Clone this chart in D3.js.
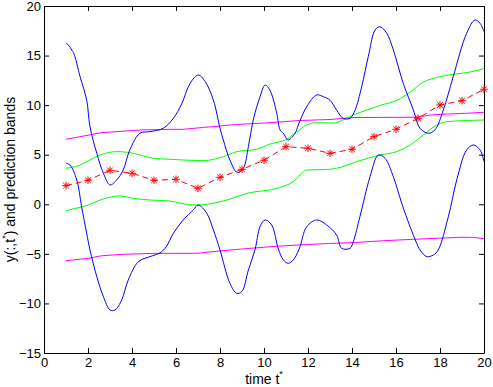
<!DOCTYPE html>
<html>
<head>
<meta charset="utf-8">
<script src="https://cdn.jsdelivr.net/npm/d3@7"></script>
<style>
  body { margin: 0; background: #fff; }
  svg { display: block; font-family: 'Liberation Sans', Arial, Helvetica, sans-serif; }
</style>
</head>
<body>
<div id="chart"></div>
<script>
// 予測値 (red stars)
const meanT = [1, 2, 3, 4, 5, 6, 7, 8, 9, 10, 11, 12, 13, 14, 15, 16, 17, 18, 19, 20];
const meanY = [1.88, 2.42, 3.43, 3.13, 2.42, 2.52, 1.61, 2.72, 3.53, 4.44,
  5.81, 5.65, 5.14, 5.55, 6.82, 7.56, 8.67, 10.02, 10.45, 11.6];

// blue curves [t, y]
const blueUpper = [[1.0, 16.24], [1.14, 16.0], [1.26, 15.56], [1.36, 15.2], [1.64, 12.87], [1.94, 10.5],
  [2.09, 7.83], [2.4, 5.14], [2.7, 3.13], [3.0, 1.95], [3.3, 2.45], [3.6, 3.46], [3.9, 5.48],
  [4.36, 7.16], [4.82, 7.33], [5.42, 7.67], [5.88, 8.67], [6.26, 10.14], [6.64, 12.2],
  [7.01, 13.04], [7.32, 12.4], [7.7, 10.5], [8.0, 7.67], [8.15, 6.49], [8.45, 4.47],
  [8.79, 3.19], [9.06, 3.63], [9.29, 5.81], [9.51, 8.5], [9.82, 10.85], [10.05, 12.03],
  [10.27, 11.5], [10.58, 9.18], [10.73, 7.5], [10.88, 7.16], [11.1, 6.49], [11.41, 7.16],
  [11.56, 8.0], [11.94, 9.85], [12.4, 11.03], [12.7, 10.85], [13.0, 10.5], [13.3, 9.5],
  [13.6, 8.67], [13.91, 8.67], [14.14, 9.5], [14.44, 11.86], [14.74, 14.89], [15.05, 17.58],
  [15.27, 17.9], [15.58, 17.25], [15.88, 15.56], [16.33, 12.2], [16.79, 9.51], [17.09, 7.67],
  [17.47, 7.16], [17.77, 7.5], [18.15, 9.51], [18.6, 12.87], [19.21, 17.25], [19.59, 18.59],
  [19.82, 18.26], [20.0, 17.41]];
const blueLower = [[1.0, 4.14], [1.18, 3.96], [1.49, 2.45], [1.71, -0.24], [1.94, -2.93], [2.09, -4.6],
  [2.4, -7.3], [2.7, -9.32], [3.0, -10.66], [3.23, -10.66], [3.53, -9.65], [3.83, -7.64],
  [4.29, -5.79], [4.82, -5.28], [5.27, -4.9], [5.55, -4.3], [5.88, -2.93], [6.33, -1.58],
  [6.79, -0.57], [7.01, -0.07], [7.4, -0.91], [7.7, -2.59], [8.0, -4.6], [8.45, -7.97],
  [8.76, -8.98], [8.99, -8.81], [9.29, -6.63], [9.59, -4.6], [9.82, -2.26], [10.05, -1.58],
  [10.35, -2.09], [10.65, -4.5], [10.88, -5.62], [11.1, -5.95], [11.33, -5.62], [11.6, -4.5],
  [11.94, -2.26], [12.4, -1.58], [12.85, -2.09], [13.3, -3.1], [13.53, -4.44], [13.91, -4.44],
  [14.06, -3.77], [14.36, -1.25], [14.82, 2.78], [15.2, 4.97], [15.5, 4.64], [15.88, 2.78],
  [16.26, 0.1], [16.64, -2.26], [16.94, -3.93], [17.09, -4.6], [17.4, -5.28], [17.7, -5.11],
  [17.92, -4.6], [18.38, -1.25], [18.76, 2.45], [19.21, 5.48], [19.52, 5.98], [19.82, 5.48],
  [20.0, 4.3]];

// green band [t, y]
const greenUpper = [[1, 3.63], [1.64, 3.96], [2.09, 4.47], [2.55, 4.97], [3.3, 5.31], [3.83, 5.24],
  [4.36, 4.97], [4.97, 4.64], [5.73, 4.54], [7.24, 4.4], [8.15, 4.8], [8.76, 5.31], [9.67, 5.55],
  [10.27, 6.07], [11.03, 6.56], [11.49, 7.32], [11.94, 8.0], [12.4, 8.23], [13.14, 8.2],
  [14.05, 9.0], [15.27, 9.97], [16.05, 10.5], [16.64, 11.3], [17.23, 12.3], [17.86, 12.8],
  [18.6, 13.1], [19.5, 13.4], [20, 13.7]];
const greenLower = [[1, -0.64], [1.64, -0.3], [2.02, -0.07], [2.55, 0.43], [3.15, 0.77], [3.45, 0.84],
  [4.06, 0.6], [4.82, 0.43], [5.73, 0.33], [6.2, 0.1], [6.95, -0.07], [7.68, 0.1], [8.32, 0.43],
  [9.23, 1.11], [10.59, 1.61], [11.33, 2.28], [11.94, 3.46], [13.0, 3.53], [13.3, 3.63],
  [14.21, 4.3], [15.27, 4.97], [16.03, 5.31], [16.64, 5.98], [17.24, 6.99], [17.85, 8.0],
  [18.3, 8.33], [20, 8.5]];

// magenta band [t, y]
const magentaUpper = [[1, 6.55], [2.6, 7.22], [4.36, 7.49], [5.73, 7.56], [6.3, 7.56], [7.25, 7.75],
  [8.76, 8.05], [10.27, 8.23], [11.6, 8.45], [13, 8.55], [14.05, 8.75], [16.94, 8.78],
  [17.55, 9.0], [18.3, 9.1], [19.2, 9.18], [20, 9.28]];
const magentaLower = [[1, -5.69], [2, -5.45], [2.6, -5.2], [3.5, -5.05], [5, -4.95], [7, -4.94],
  [8, -4.7], [8.8, -4.55], [10.27, -4.28], [11.6, -4.1], [13, -3.95], [14, -3.87],
  [15.5, -3.67], [16.8, -3.53], [18.9, -3.33], [19.5, -3.33], [20, -3.47]];

const xTicks = [0, 2, 4, 6, 8, 10, 12, 14, 16, 18, 20];
const yTicks = [-15, -10, -5, 0, 5, 10, 15, 20];

// svg領域設定
const svgWidth = 493;
const svgHeight = 387;
const margin = { top: 6, right: 9, bottom: 34, left: 44 };
const width = svgWidth - margin.left - margin.right;
const height = svgHeight - margin.top - margin.bottom;
const fontSize = 13;
const labelSize = 14;

const svg = d3.select('#chart')
  .append('svg')
  .attr('width', svgWidth)
  .attr('height', svgHeight);

const graph = svg.append('g')
  .attr('transform', `translate(${margin.left},${margin.top})`);

const xScale = d3.scaleLinear().domain([0, 20]).range([0, width]);
const yScale = d3.scaleLinear().domain([-15, 20]).range([height, 0]);

// 軸
const tickLen = 5;
graph.append('g')
  .attr('transform', `translate(0,${height})`)
  .call(d3.axisBottom(xScale).tickValues(xTicks).tickSizeInner(-tickLen).tickSizeOuter(0).tickPadding(5));
graph.append('g')
  .call(d3.axisLeft(yScale).tickValues(yTicks).tickFormat(d => d < 0 ? '\u2212' + Math.abs(d) : d)
    .tickSizeInner(-tickLen).tickSizeOuter(0).tickPadding(3));
graph.append('g')
  .call(d3.axisTop(xScale).tickValues(xTicks).tickSizeInner(-tickLen).tickSizeOuter(0).tickFormat(''));
graph.append('g')
  .attr('transform', `translate(${width},0)`)
  .call(d3.axisRight(yScale).tickValues(yTicks).tickSizeInner(-tickLen).tickSizeOuter(0).tickFormat(''));

graph.selectAll('.domain').attr('stroke', '#000');
graph.selectAll('.tick line').attr('stroke', '#000');
graph.selectAll('.tick text').attr('font-size', fontSize).attr('fill', '#000')
  .attr('font-family', "'Liberation Sans', Arial, Helvetica, sans-serif");

// 線
const pairLine = d3.line()
  .x(d => xScale(d[0]))
  .y(d => yScale(d[1]));

const series = [
  { data: magentaLower, color: '#ff00ff', curve: d3.curveLinear },
  { data: magentaUpper, color: '#ff00ff', curve: d3.curveLinear },
  { data: greenLower, color: '#00ff00', curve: d3.curveMonotoneX },
  { data: greenUpper, color: '#00ff00', curve: d3.curveMonotoneX },
  { data: blueLower, color: '#0000ff', curve: d3.curveCatmullRom.alpha(0.5) },
  { data: blueUpper, color: '#0000ff', curve: d3.curveCatmullRom.alpha(0.5) }
];

graph.selectAll('path.band')
  .data(series)
  .enter()
  .append('path')
  .attr('class', 'band')
  .attr('fill', 'none')
  .attr('stroke', d => d.color)
  .attr('stroke-width', 1)
  .attr('d', d => pairLine.curve(d.curve)(d.data));

// 予測値の破線と星印
const meanPts = meanT.map((t, i) => [t, meanY[i]]);
graph.append('path')
  .attr('fill', 'none')
  .attr('stroke', '#ff0000')
  .attr('stroke-width', 1)
  .attr('stroke-dasharray', '6,4')
  .attr('d', pairLine.curve(d3.curveLinear)(meanPts));

const star = graph.selectAll('g.star')
  .data(meanPts)
  .enter()
  .append('g')
  .attr('class', 'star')
  .attr('transform', d => `translate(${xScale(d[0])},${yScale(d[1])})`)
  .attr('stroke', '#ff0000')
  .attr('stroke-width', 1);
const r = 3.8, rd = 2.8;
star.append('line').attr('x1', -r).attr('x2', r).attr('y1', 0).attr('y2', 0);
star.append('line').attr('x1', 0).attr('x2', 0).attr('y1', -r).attr('y2', r);
star.append('line').attr('x1', -rd).attr('x2', rd).attr('y1', -rd).attr('y2', rd);
star.append('line').attr('x1', -rd).attr('x2', rd).attr('y1', rd).attr('y2', -rd);

// ラベル
const xLabel = svg.append('text')
  .attr('x', margin.left + width / 2)
  .attr('y', 384)
  .attr('text-anchor', 'middle')
  .attr('font-size', labelSize)
  .attr('fill', '#000');
xLabel.append('tspan').text('time t');
xLabel.append('tspan').attr('dy', -7).attr('font-size', 9).text('*');

const yLabel = svg.append('text')
  .attr('transform', `translate(15,${margin.top + height / 2}) rotate(-90)`)
  .attr('text-anchor', 'middle')
  .attr('font-size', labelSize)
  .attr('fill', '#000');
yLabel.append('tspan').text('y(:,t');
yLabel.append('tspan').attr('dy', -7).attr('font-size', 9).text('*');
yLabel.append('tspan').attr('dy', 7).text(') and prediction bands');
</script>
</body>
</html>
